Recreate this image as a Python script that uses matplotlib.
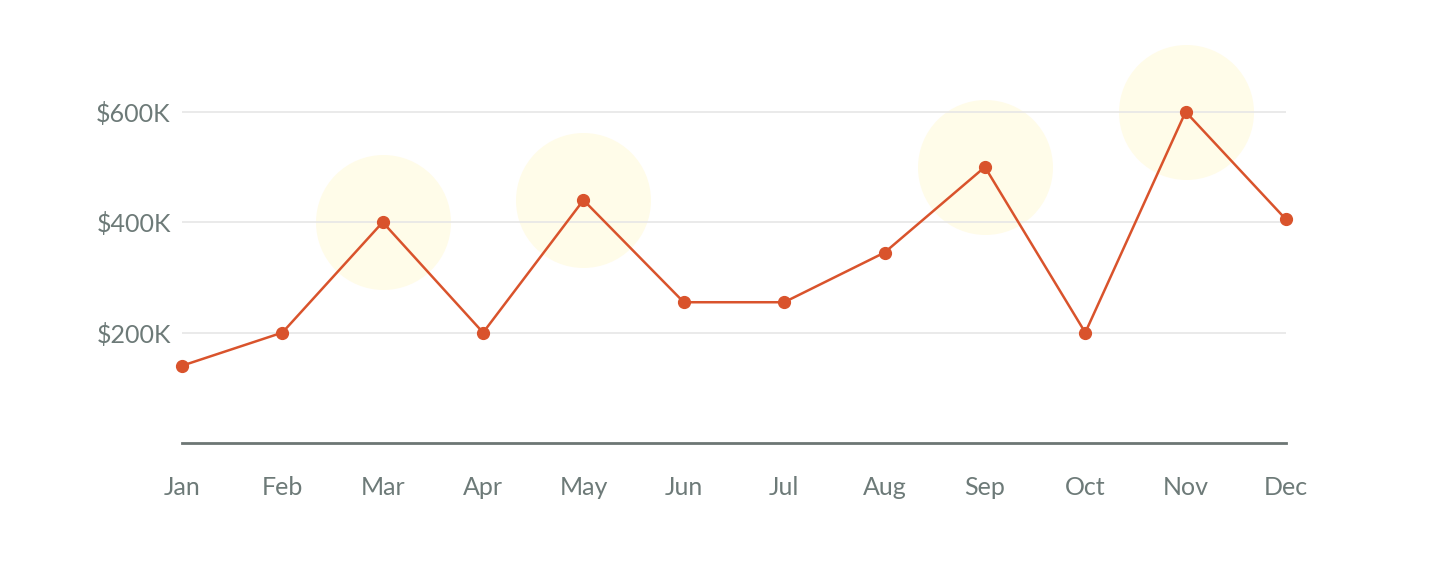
import matplotlib.pyplot as plt
import matplotlib.ticker as mticker

months = ['Jan', 'Feb', 'Mar', 'Apr', 'May', 'Jun', 'Jul', 'Aug', 'Sep', 'Oct', 'Nov', 'Dec']
sales = [140000, 200000, 400000, 200000, 440000, 255000, 255000, 345000, 500000, 200000, 600000, 405000]
highlight = ['Mar', 'May', 'Sep', 'Nov']

plt.rcParams['font.family'] = ['Lato', 'DejaVu Sans']

fig = plt.figure(figsize=(14.48, 5.71), dpi=100)
ax = fig.add_axes([182 / 1448, 128 / 571, (1286 - 182) / 1448, (443 - 29) / 571])

x = list(range(len(months)))
hx = [months.index(m) for m in highlight]
hy = [sales[i] for i in hx]

# cercurile galbene din spate
ax.scatter(hx, hy, s=(135 * 0.72) ** 2, color='#fffce9', zorder=1, clip_on=False, linewidths=0)
ax.plot(x, sales, color='#d9532c', lw=1.8, marker='o', ms=8.5, zorder=3, clip_on=False)

ax.set_xlim(0, 11)
ax.set_ylim(0, 750000)
ax.set_xticks(x)
ax.set_xticklabels(months)
ax.set_yticks([200000, 400000, 600000])
ax.yaxis.set_major_formatter(mticker.FuncFormatter(lambda v, p: '$%dK' % (v / 1000)))

ax.grid(axis='y', color='#e6e6e6', lw=1.2, zorder=2)
ax.set_axisbelow(False)
for g in ax.get_ygridlines():
    g.set_zorder(2)

for s in ['top', 'right', 'left']:
    ax.spines[s].set_visible(False)
ax.spines['bottom'].set_color('#6d7674')
ax.spines['bottom'].set_linewidth(2.0)
ax.spines['bottom'].set_zorder(4)

ax.tick_params(axis='both', length=0, labelsize=18, labelcolor='#6d7a78')
ax.tick_params(axis='x', pad=24)
ax.tick_params(axis='y', pad=8)

fig.savefig('out.png', dpi=100)
